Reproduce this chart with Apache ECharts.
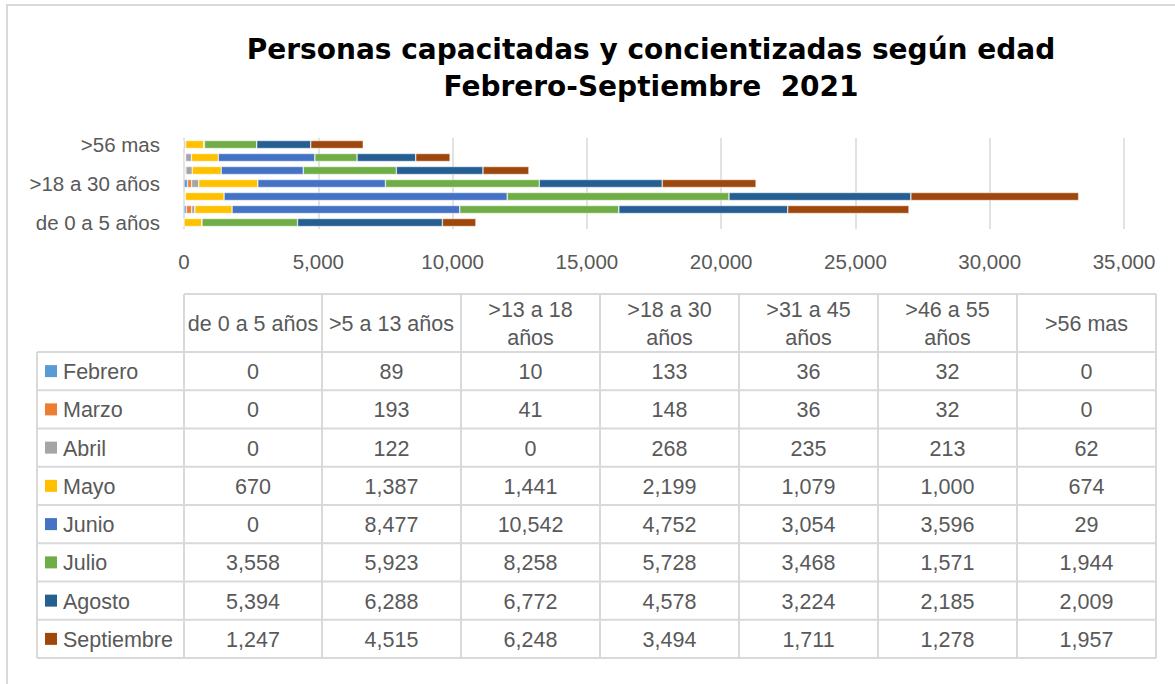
<!DOCTYPE html>
<html><head><meta charset="utf-8">
<script src="https://cdn.jsdelivr.net/npm/echarts@6/dist/echarts.min.js"></script>
<style>html,body{margin:0;padding:0;background:#fff}#c{width:1175px;height:684px}</style>
</head><body><div id="c"></div>
<script>
const titleLines = ['Personas capacitadas y concientizadas según edad', 'Febrero-Septiembre  2021'];
const categories = ['de 0 a 5 años', '>5 a 13 años', '>13 a 18 años', '>18 a 30 años', '>31 a 45 años', '>46 a 55 años', '>56 mas'];
const headerLabels = ['de 0 a 5 años', '>5 a 13 años', '>13 a 18\naños', '>18 a 30\naños', '>31 a 45\naños', '>46 a 55\naños', '>56 mas'];
const months = ['Febrero', 'Marzo', 'Abril', 'Mayo', 'Junio', 'Julio', 'Agosto', 'Septiembre'];
const febrero = [0, 89, 10, 133, 36, 32, 0];
const marzo = [0, 193, 41, 148, 36, 32, 0];
const abril = [0, 122, 0, 268, 235, 213, 62];
const mayo = [670, 1387, 1441, 2199, 1079, 1000, 674];
const junio = [0, 8477, 10542, 4752, 3054, 3596, 29];
const julio = [3558, 5923, 8258, 5728, 3468, 1571, 1944];
const agosto = [5394, 6288, 6772, 4578, 3224, 2185, 2009];
const septiembre = [1247, 4515, 6248, 3494, 1711, 1278, 1957];
const xTicks = { min: 0, max: 35000, interval: 5000 };
const colors = ['#5B9BD5', '#ED7D31', '#A5A5A5', '#FFC000', '#4472C4', '#70AD47', '#255E91', '#9E480E'];

const seriesData = [febrero, marzo, abril, mayo, junio, julio, agosto, septiembre];
const FONT = '"Liberation Sans", Arial, sans-serif';
const TXT = '#595959';
const LINE = '#D9D9D9';
const fmt = v => v.toLocaleString('en-US');
const TFS = 21.5; // table font size

// table layout
const colX = [37, 184, 322, 461, 600, 739, 878, 1017, 1156];
const headTop = 294, rowTop = 352, rowH = 38.25;
const tableBottom = rowTop + rowH * months.length;

const graphic = [];
// outer chart border
graphic.push({ type: 'rect', shape: { x: 7, y: 5, width: 1200, height: 700 }, style: { fill: 'none', stroke: LINE, lineWidth: 2 }, silent: true });
// title
const TITLE_FONT = 'bold 28px "DejaVu Sans", sans-serif';
graphic.push({ type: 'text', x: 651, y: 49, style: { text: titleLines[0], font: TITLE_FONT, fill: '#000', textAlign: 'center', textVerticalAlign: 'middle' } });
graphic.push({ type: 'text', x: 651, y: 86, style: { text: titleLines[1], font: TITLE_FONT, fill: '#000', textAlign: 'center', textVerticalAlign: 'middle' } });
// table lines
function hline(x1, x2, y) { graphic.push({ type: 'line', shape: { x1, y1: y, x2, y2: y }, style: { stroke: LINE, lineWidth: 2 }, silent: true }); }
function vline(x, y1, y2) { graphic.push({ type: 'line', shape: { x1: x, y1, x2: x, y2 }, style: { stroke: LINE, lineWidth: 2 }, silent: true }); }
hline(colX[1], colX[8], headTop);
for (let r = 0; r <= months.length; r++) hline(colX[0], colX[8], rowTop + r * rowH);
vline(colX[0], rowTop, tableBottom);
for (let c = 1; c < colX.length; c++) vline(colX[c], headTop, tableBottom);
// header
headerLabels.forEach((h, i) => {
  graphic.push({ type: 'text', x: (colX[i + 1] + colX[i + 2]) / 2, y: (headTop + rowTop) / 2 + 1, style: { text: h, font: TFS + 'px ' + FONT, fill: TXT, textAlign: 'center', textVerticalAlign: 'middle', lineHeight: 28 } });
});
// rows
months.forEach((m, r) => {
  const cy = rowTop + r * rowH + rowH / 2;
  graphic.push({ type: 'rect', shape: { x: 45, y: cy - 6, width: 12, height: 12 }, style: { fill: colors[r] } });
  graphic.push({ type: 'text', x: 63, y: cy + 1, style: { text: m, font: TFS + 'px ' + FONT, fill: TXT, textAlign: 'left', textVerticalAlign: 'middle' } });
  seriesData[r].forEach((v, c) => {
    graphic.push({ type: 'text', x: (colX[c + 1] + colX[c + 2]) / 2, y: cy + 1, style: { text: fmt(v), font: TFS + 'px ' + FONT, fill: TXT, textAlign: 'center', textVerticalAlign: 'middle' } });
  });
});

const chart = echarts.init(document.getElementById('c'), null, { renderer: 'svg' });
chart.setOption({
  animation: false,
  color: colors,
  grid: { left: 184, right: 51, top: 138, bottom: 455, containLabel: false },
  xAxis: {
    type: 'value', min: xTicks.min, max: xTicks.max, interval: xTicks.interval,
    axisLine: { show: false }, axisTick: { show: false },
    splitLine: { lineStyle: { color: LINE, width: 1.5 } },
    axisLabel: { color: TXT, fontSize: 20.5, fontFamily: FONT, margin: 22, formatter: v => fmt(v) }
  },
  yAxis: {
    type: 'category', data: categories,
    axisLine: { show: false }, axisTick: { show: false },
    axisLabel: { color: TXT, fontSize: 20.5, fontFamily: FONT, margin: 24, interval: 2 }
  },
  series: months.map((m, i) => ({
    name: m, type: 'bar', stack: 'total', data: seriesData[i], barWidth: 8,
    itemStyle: { color: colors[i], borderColor: '#fff', borderWidth: 0.5 }
  })),
  graphic: graphic
});
</script></body></html>
